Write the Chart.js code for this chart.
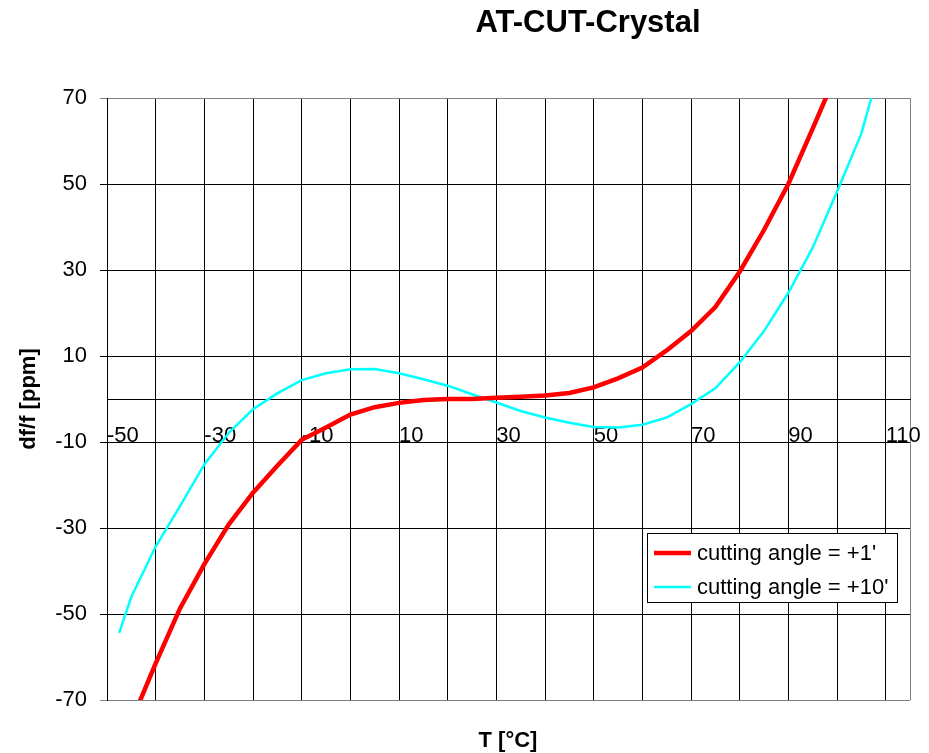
<!DOCTYPE html>
<html>
<head>
<meta charset="utf-8">
<script src="https://cdn.jsdelivr.net/npm/chart.js"></script>
<style>
  body { margin: 0; background: #fff; }
  #wrap { width: 929px; height: 753px; }
</style>
</head>
<body>
<div id="wrap"><canvas id="line-chart" width="929" height="753"></canvas></div>
<script>
// temperature in °C
var temps = [-47.5, -45, -40, -35, -30, -25, -20, -15, -10, -5, 0, 5, 10, 15, 20, 25, 30,
             35, 40, 45, 50, 55, 60, 65, 70, 75, 80, 85, 90, 95, 100, 105, 110];
// df/f in ppm
var angle1 = [null, -75, -61.5, -48.7, -38.4, -29.2, -21.8, -15.5, -9.5, -6.6, -3.6, -1.9, -0.9, -0.25, 0, 0, 0.3,
              0.5, 0.8, 1.4, 2.7, 4.8, 7.3, 11.3, 15.8, 21.4, 29.6, 39.3, 50, 62.9, 76, null, null];
var angle10 = [-54.4, -46, -34.3, -24.9, -15.2, -7.9, -2.4, 1.3, 4.4, 6.0, 6.9, 7.0, 6.0, 4.6, 3.1, 1.1, -0.8,
               -2.8, -4.3, -5.5, -6.5, -6.6, -6.0, -4.3, -1.2, 2.5, 8.5, 15.8, 24.7, 35.2, 48.2, 61.7, 82];
var seriesNames = ["cutting angle = +1'", "cutting angle = +10'"];

var xTicks = [-50, -40, -30, -20, -10, 0, 10, 20, 30, 40, 50, 60, 70, 80, 90, 100, 110, 115];
var xLabels = [-50, -30, -10, 10, 30, 50, 70, 90, 110];
var yTicks = [-70, -50, -30, -10, 10, 30, 50, 70];

var FONT = "'Liberation Sans', Arial, sans-serif";

function pts(vals) {
    return temps.map(function (t, i) { return { x: t, y: vals[i] }; });
}

// title, x axis title and the boxed legend
var extras = {
    id: 'extras',
    afterDraw: function (chart) {
        var ctx = chart.ctx;
        ctx.save();
        ctx.fillStyle = '#000';
        ctx.textAlign = 'center';
        ctx.textBaseline = 'middle';
        ctx.font = 'bold 31px ' + FONT;
        ctx.fillText('AT-CUT-Crystal', 588, 23);
        ctx.font = 'bold 22px ' + FONT;
        ctx.fillText('T [°C]', 508, 741);

        // legend
        ctx.fillStyle = '#fff';
        ctx.fillRect(647.5, 533.5, 250, 69);
        ctx.strokeStyle = '#000';
        ctx.lineWidth = 1;
        ctx.strokeRect(647.5, 533.5, 250, 69);
        ctx.font = '22px ' + FONT;
        ctx.textAlign = 'left';
        chart.data.datasets.forEach(function (ds, i) {
            var y = 553 + i * 34;
            ctx.strokeStyle = ds.borderColor;
            ctx.lineWidth = ds.borderWidth;
            ctx.beginPath();
            ctx.moveTo(654, y);
            ctx.lineTo(691, y);
            ctx.stroke();
            ctx.fillStyle = '#000';
            ctx.fillText(ds.label, 697, y + 1);
        });
        ctx.restore();
    }
};

function GenerateChart() {
    Chart.defaults.color = '#000';
    Chart.defaults.font.family = FONT;
    Chart.defaults.font.size = 22;

    new Chart(document.getElementById("line-chart"), {
        type: 'line',
        data: {
            datasets: [{
                label: seriesNames[0],
                data: pts(angle1),
                borderColor: "#ff0000",
                borderWidth: 4.5,
                pointRadius: 0,
                clip: 0
            }, {
                label: seriesNames[1],
                data: pts(angle10),
                borderColor: "#00ffff",
                borderWidth: 2.5,
                pointRadius: 0,
                clip: 0
            }]
        },
        options: {
            responsive: false,
            animation: false,
            layout: { padding: { left: 0, right: 19, top: 98, bottom: 53 } },
            plugins: {
                legend: { display: false },
                tooltip: { enabled: false }
            },
            scales: {
                x: {
                    type: 'linear',
                    position: { y: 0 },
                    min: -50,
                    max: 115,
                    afterBuildTicks: function (axis) {
                        axis.ticks = xTicks.map(function (v) { return { value: v }; });
                    },
                    ticks: {
                        autoSkip: false,
                        maxRotation: 0,
                        align: 'start',
                        padding: 17,
                        callback: function (v) {
                            return xLabels.indexOf(v) >= 0 ? String(v) : '';
                        }
                    },
                    grid: {
                        color: function (c) { return c.tick && c.tick.value === 115 ? '#808080' : '#000'; },
                        tickLength: 7
                    },
                    border: { color: '#000', width: 1 }
                },
                y: {
                    type: 'linear',
                    min: -70,
                    max: 70,
                    afterBuildTicks: function (axis) {
                        axis.ticks = yTicks.map(function (v) { return { value: v }; });
                    },
                    afterFit: function (axis) { axis.width = 107; },
                    ticks: {
                        padding: 13,
                        callback: function (v) { return String(v); }
                    },
                    grid: {
                        color: function (c) {
                            return c.tick && (c.tick.value === 70 || c.tick.value === -70) ? '#808080' : '#000';
                        },
                        tickLength: 7
                    },
                    border: { color: '#000', width: 1 },
                    title: {
                        display: true,
                        text: 'df/f [ppm]',
                        font: { weight: 'bold', size: 22 },
                        padding: { top: 16, bottom: 0 }
                    }
                }
            }
        },
        plugins: [extras]
    });
}

GenerateChart();
</script>
</body>
</html>
